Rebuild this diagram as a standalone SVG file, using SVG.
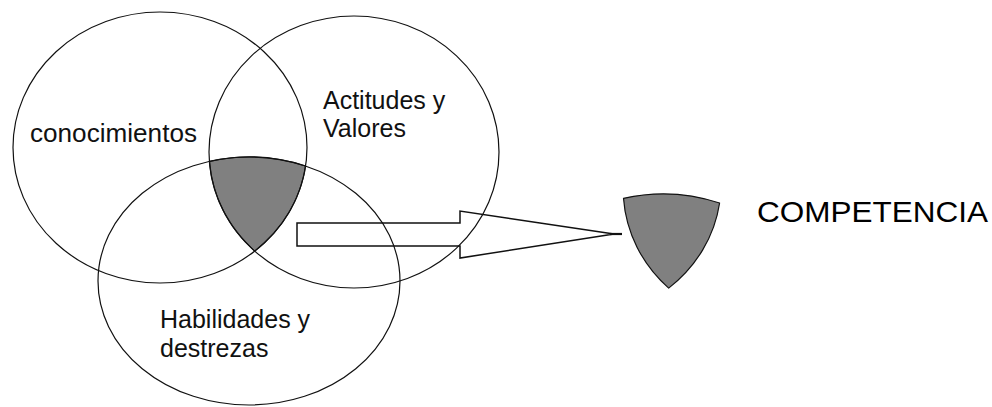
<svg xmlns="http://www.w3.org/2000/svg" xmlns:xlink="http://www.w3.org/1999/xlink" width="992" height="407" viewBox="0 0 992 407">
  <style>
    .ring { fill: none; stroke: #111; stroke-width: 1.2; }
    .shade { fill: #808080; stroke: #111; stroke-width: 1.2; stroke-linejoin: round; }
    .lbl { font-family: "Liberation Sans", Arial, sans-serif; font-size: 25px; fill: #111; }
    .big { font-family: "Liberation Sans", Arial, sans-serif; font-size: 29px; fill: #000; }
    .arrow { fill: none; stroke: #111; stroke-width: 1.5; stroke-linejoin: miter; }
  </style>
  <defs>
    <path id="core" d="M209.5,161.3 A151,124 0 0 1 305.6,166 A147,135.5 0 0 1 254.7,251.1 A145,136 0 0 1 209.5,161.3 Z"/>
  </defs>
  <rect width="992" height="407" fill="#fff"/>

  <g id="interseccion">
    <use xlink:href="#core" href="#core" class="shade"/>
  </g>

  <g id="conocimientos">
    <ellipse class="ring" cx="160" cy="147.5" rx="147" ry="135.5"/>
    <text class="lbl" x="30" y="142" textLength="167" lengthAdjust="spacingAndGlyphs">conocimientos</text>
  </g>

  <g id="actitudes">
    <ellipse class="ring" cx="354" cy="152" rx="145" ry="136"/>
    <text class="lbl" x="323" y="109">Actitudes y</text>
    <text class="lbl" x="323" y="137">Valores</text>
  </g>

  <g id="habilidades">
    <ellipse class="ring" cx="249" cy="281" rx="151" ry="124"/>
    <text class="lbl" x="160" y="328">Habilidades y</text>
    <text class="lbl" x="160" y="357">destrezas</text>
  </g>

  <g id="connectors">
    <polygon class="arrow" points="297,223 460,223 460,211 614,234 460,258 460,246 297,246"/>
    <line x1="610" y1="234" x2="622" y2="234" stroke="#111" stroke-width="2.2"/>
  </g>

  <g id="competencia">
    <use xlink:href="#core" href="#core" class="shade" transform="translate(414,37)"/>
    <text class="big" x="757" y="222" textLength="231" lengthAdjust="spacingAndGlyphs">COMPETENCIA</text>
  </g>
</svg>
